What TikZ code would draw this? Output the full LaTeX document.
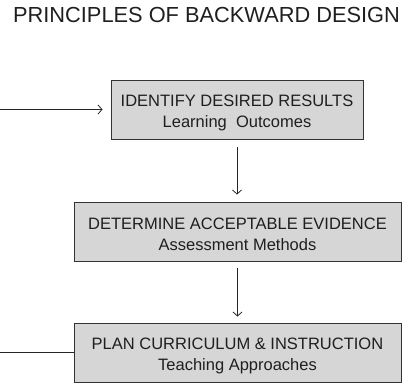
\documentclass[tikz,border=0pt]{standalone}
\usepackage{fontspec}
\setmainfont{Liberation Sans}
\usetikzlibrary{arrows.meta}
\newcommand{\toppad}{\rule{0pt}{18pt}}
\begin{document}
\begin{tikzpicture}[x=1pt,y=-1pt,
  stepbox/.style={draw=black!80, fill=black!16, line width=0.9pt,
    minimum width=#1, minimum height=59pt, inner sep=0pt, align=center,
    font=\fontsize{16.5}{21}\selectfont, text=black!88},
  conn/.style={line width=0.8pt, draw=black!85},
  tip/.style={-{Straight Barb[length=4pt,width=9pt]}}]
\useasboundingbox (0,0) rectangle (409,383);
\node[font=\fontsize{21.8}{26}\selectfont, text=black!88] (title) at (206.5,15) {PRINCIPLES OF BACKWARD DESIGN};
\node[stepbox=252pt] (b1) at (237,109.5) {\toppad IDENTIFY DESIRED RESULTS\\Learning~~Outcomes};
\node[stepbox=327pt] (b2) at (237.5,231.5) {\toppad DETERMINE ACCEPTABLE EVIDENCE\\Assessment Methods};
\node[stepbox=327pt] (b3) at (237.5,352.5) {\toppad PLAN CURRICULUM \& INSTRUCTION\\Teaching Approaches};
\coordinate (fb1) at (0,109.5);
\coordinate (fb3) at (0,352.5);
\draw[conn, tip, shorten <=8pt, shorten >=7pt] (b1.south) -- (b1.south |- b2.north);
\draw[conn, tip, shorten <=7pt, shorten >=6pt] (b2.south) -- (b2.south |- b3.north);
\draw[conn, tip, shorten >=8pt] (fb1) -- (b1.west);
\draw[conn] (b3.west) -- (fb3);
\end{tikzpicture}
\end{document}
